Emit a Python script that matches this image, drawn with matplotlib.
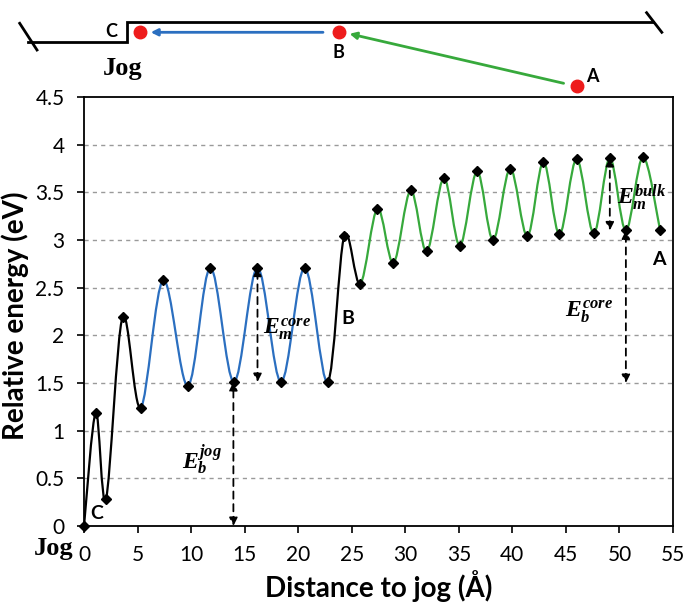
import numpy as np
import matplotlib
matplotlib.use("Agg")
import matplotlib.pyplot as plt
from matplotlib.path import Path
from matplotlib.patches import PathPatch

plt.rcParams['font.family'] = ['Lato', 'DejaVu Sans']
plt.rcParams['mathtext.fontset'] = 'custom'
plt.rcParams['mathtext.it'] = 'Liberation Serif:italic:bold'
plt.rcParams['mathtext.rm'] = 'Liberation Serif:bold'

# ---------------------------------------------------------------------------
# data
# ---------------------------------------------------------------------------
dist = [0.0, 1.1, 2.05, 3.6, 5.3, 7.4, 9.7, 11.8, 14.0, 16.2, 18.4, 20.6, 22.75,
        24.3, 25.8, 27.4, 28.9, 30.5, 32.0, 33.6, 35.1, 36.7, 38.2, 39.8, 41.4,
        42.9, 44.4, 46.0, 47.6, 49.1, 50.6, 52.2, 53.8]
energy = [0.0, 1.19, 0.28, 2.19, 1.24, 2.58, 1.47, 2.71, 1.51, 2.71, 1.51, 2.71, 1.51,
          3.04, 2.54, 3.33, 2.76, 3.52, 2.88, 3.65, 2.94, 3.72, 3.0, 3.75, 3.04,
          3.82, 3.06, 3.85, 3.07, 3.86, 3.1, 3.87, 3.1]

# colour pieces of the path (index ranges into the arrays above)
pieces = [(0, 4, "black"), (4, 12, "#2b6fc0"), (12, 14, "black"), (14, 32, "#37a93c")]

xticks = [0, 5, 10, 15, 20, 25, 30, 35, 40, 45, 50, 55]
yticks = [0, 0.5, 1, 1.5, 2, 2.5, 3, 3.5, 4, 4.5]
ytick_labels = ["0", "0.5", "1", "1.5", "2", "2.5", "3", "3.5", "4", "4.5"]

# energy-difference arrows: (x, y_bottom, y_top)
arrows = [(16.2, 1.51, 2.71), (13.95, 0.0, 1.51), (49.1, 3.1, 3.86), (50.6, 1.5, 3.1)]
arrow_labels = [(19.0, 2.06, r"$E_m^{core}$"), (11.0, 0.69, r"$E_b^{jog}$"),
                (52.1, 3.45, r"$E_m^{bulk}$"), (47.2, 2.25, r"$E_b^{core}$")]
point_labels = [(1.2, 0.13, "C"), (24.6, 2.18, "B"), (53.7, 2.8, "A")]


def smooth_path(x, y, i0, i1):
    """Excel-like smoothed line (Catmull-Rom as cubic bezier) from i0 to i1."""
    n = len(x)
    P = np.column_stack([x, y])
    verts = [P[i0]]
    codes = [Path.MOVETO]
    for i in range(i0, i1):
        p0 = P[max(i - 1, 0)]
        p1 = P[i]
        p2 = P[i + 1]
        p3 = P[min(i + 2, n - 1)]
        c1 = p1 + (p2 - p0) / 6.0
        c2 = p2 - (p3 - p1) / 6.0
        verts += [c1, c2, p2]
        codes += [Path.CURVE4] * 3
    return Path(verts, codes)


fig = plt.figure(figsize=(6.85, 6.11), dpi=100)
ax = fig.add_axes([84 / 685, 1 - 526 / 611, 589 / 685, 429 / 611])

for y in yticks[1:-1]:
    ax.axhline(y, color="#9a9a9a", lw=1.0, ls=(0, (3, 3)), zorder=0)

for i0, i1, col in pieces:
    ax.add_patch(PathPatch(smooth_path(dist, energy, i0, i1), fc="none",
                           ec=col, lw=1.6, zorder=2))
ax.plot(dist, energy, ls="none", marker="D", ms=5, color="black", zorder=3,
        clip_on=False)

for x, y0, y1 in arrows:
    ax.annotate("", xy=(x, y1), xytext=(x, y0),
                arrowprops=dict(arrowstyle="<|-|>", ls=(0, (4, 3)), lw=1.3,
                                color="black", mutation_scale=12,
                                shrinkA=0, shrinkB=0), zorder=4)
for x, y, s in arrow_labels:
    ax.text(x, y, s, fontsize=17, ha="center", va="center", zorder=5)
for x, y, s in point_labels:
    ax.text(x, y, s, fontsize=14, fontweight="bold", ha="center", va="center")

ax.set_xlim(0, 55)
ax.set_ylim(0, 4.5)
ax.set_xticks(xticks)
ax.set_yticks(yticks)
ax.set_yticklabels(ytick_labels)
ax.tick_params(direction="out", length=5, width=1.2, labelsize=15, pad=9)
for sp in ax.spines.values():
    sp.set_linewidth(1.3)

ax.set_xlabel("Distance to jog (Å)", fontsize=20, fontweight="bold", labelpad=3)
ax.set_ylabel("Relative energy (eV)", fontsize=20, fontweight="bold")
ax.yaxis.set_label_coords((29 - 84) / 589, (526 - 316) / 429)
fig.text(54 / 685, 1 - 549 / 611, "Jog", family="Liberation Serif",
         fontweight="bold", fontsize=19, ha="center", va="center")

# ---------------------------------------------------------------------------
# schematic above the plot (pixel coordinates)
# ---------------------------------------------------------------------------
top = fig.add_axes([0, 0, 1, 1], zorder=10)
top.set_xlim(0, 685)
top.set_ylim(611, 0)
top.axis("off")
top.patch.set_alpha(0)

line_x = [28, 127, 127, 653]
line_y = [41.7, 41.7, 21.7, 21.7]
top.plot(line_x, line_y, color="black", lw=2.0, solid_joinstyle="miter")
top.plot([19.7, 37], [23.3, 50], color="black", lw=2.0)
top.plot([646.6, 661.8], [12.7, 32.3], color="black", lw=2.0)

dot_x = [139.8, 338.6, 577.5]
dot_y = [32.3, 32.3, 86]
top.annotate("", xy=(150.7, 32.3), xytext=(323, 32.3),
             arrowprops=dict(arrowstyle="-|>", color="#2b6fc0", lw=2.0,
                             mutation_scale=10, shrinkA=0, shrinkB=0))
top.annotate("", xy=(349.5, 33.8), xytext=(563.6, 83.3),
             arrowprops=dict(arrowstyle="-|>", color="#37a93c", lw=2.0,
                             mutation_scale=10, shrinkA=0, shrinkB=0))
top.plot(dot_x, dot_y, ls="none", marker="o", ms=9, color="#ee1c1c")
top.text(111.4, 31.7, "C", fontsize=13, fontweight="bold", ha="center", va="center")
top.text(338.6, 52, "B", fontsize=13, fontweight="bold", ha="center", va="center")
top.text(592, 76, "A", fontsize=13, fontweight="bold", ha="center", va="center")
top.text(123, 68.3, "Jog", family="Liberation Serif", fontweight="bold",
         fontsize=19, ha="center", va="center")

fig.savefig("out.png", dpi=100)
